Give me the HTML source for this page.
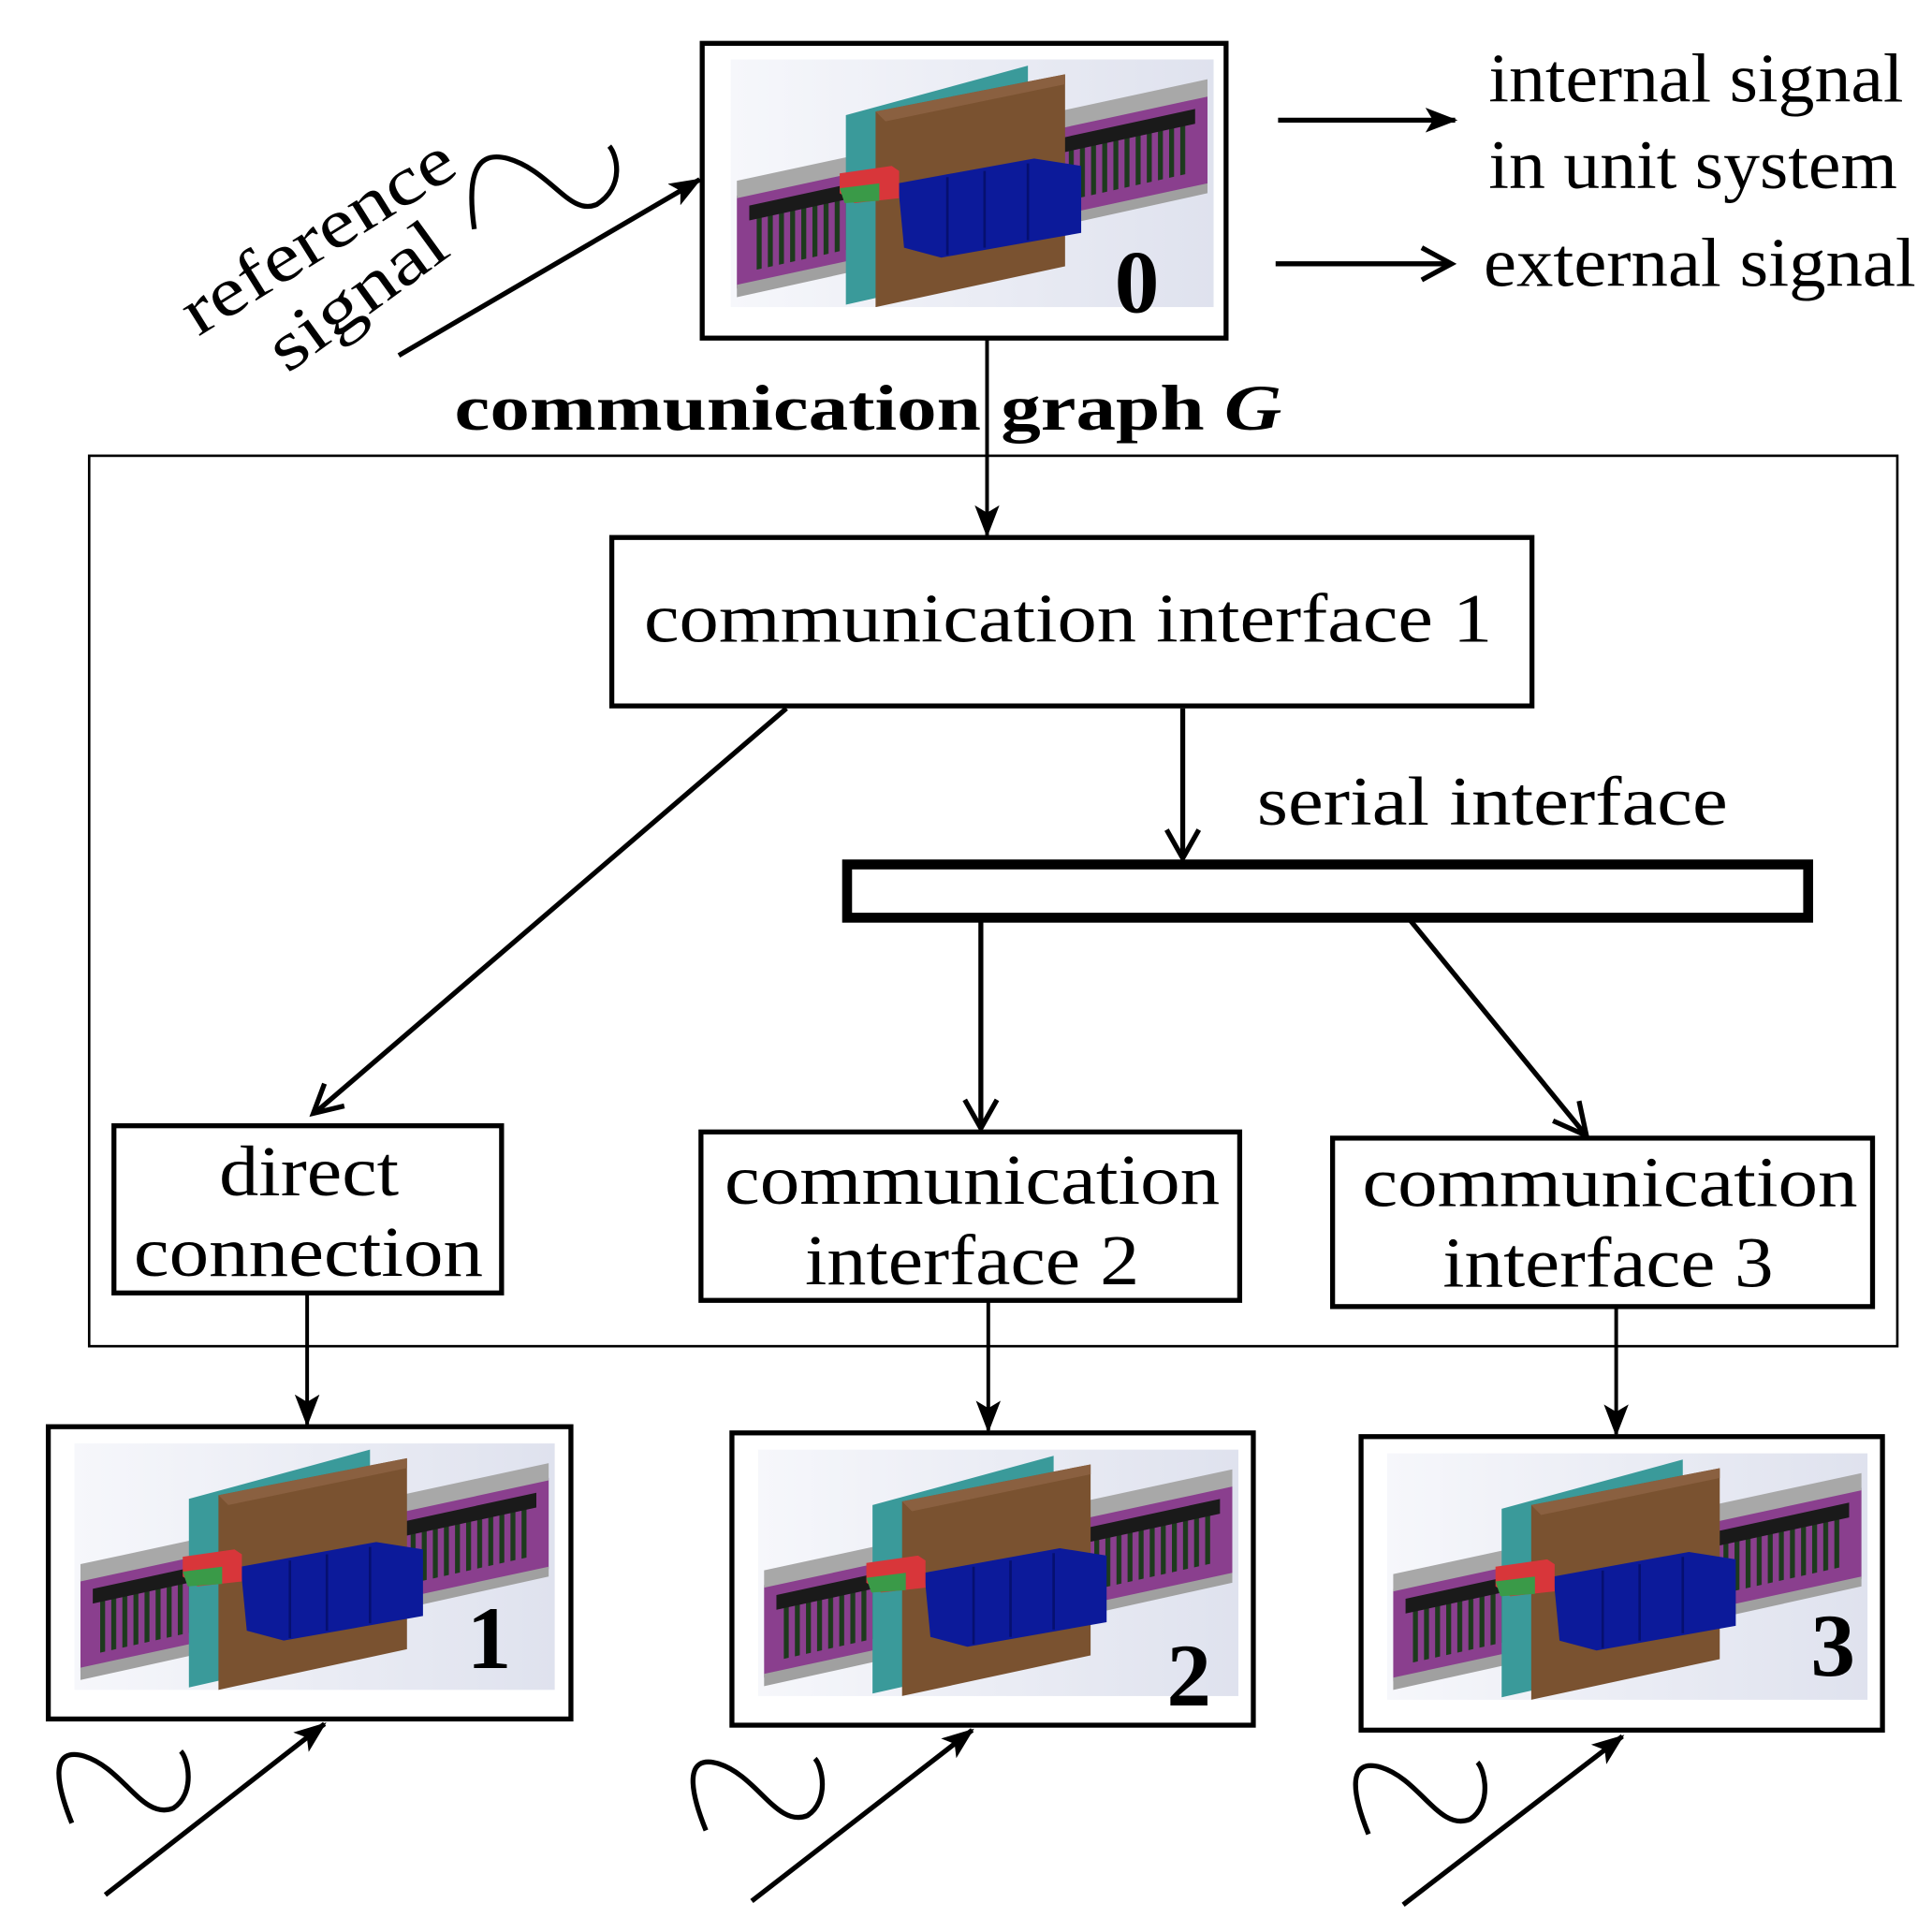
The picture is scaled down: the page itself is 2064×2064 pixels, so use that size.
<!DOCTYPE html>
<html><head><meta charset="utf-8"><style>
html,body{margin:0;padding:0;background:#fff;}
svg{display:block;}
text{font-family:"Liberation Serif",serif;fill:#000;}
</style></head><body>
<svg width="2064" height="2064" viewBox="0 0 1560 1560" xmlns="http://www.w3.org/2000/svg">
<defs>
<linearGradient id="bg" x1="0" y1="0" x2="1" y2="0"><stop offset="0" stop-color="#f6f7fb"/><stop offset="1" stop-color="#dfe2ee"/></linearGradient>
<pattern id="stripes" width="9" height="10" patternUnits="userSpaceOnUse"><rect width="9" height="10" fill="#8a3f8e"/><rect x="3" width="4" height="10" fill="#1d3a1d"/></pattern>
<marker id="fa" viewBox="0 0 26 20" refX="24" refY="10" markerWidth="26" markerHeight="20" orient="auto" markerUnits="userSpaceOnUse"><path d="M0,0 L26,10 L0,20 L6,10 z"/></marker>
<symbol id="mach" viewBox="0 0 390 200">
<rect width="390" height="200" fill="url(#bg)"/>
<polygon points="5,110 385,28 385,102 5,185" fill="#8a3f8e"/>
<polygon points="20,125 370,50 370,92 20,170" fill="url(#stripes)"/>
<polygon points="15,118 375,40 375,52 15,130" fill="#1a1a1a"/>
<polygon points="5,98 385,16 385,30 5,112" fill="#a8a8a8"/>
<polygon points="5,182 385,100 385,108 5,192" fill="#a0a0a0"/>
<polygon points="93,45 240,5 240,165 93,198" fill="#3a9a9a"/>
<polygon points="117,42 270,12 270,167 117,200" fill="#7a5230"/>
<polygon points="117,42 270,12 270,20 125,50" fill="#8a6040"/>
<polygon points="135,100 245,80 283,86 283,140 170,160 140,152" fill="#0c1a9a"/>
<line x1="175" y1="95" x2="175" y2="158" stroke="#061070" stroke-width="2"/>
<line x1="205" y1="90" x2="205" y2="152" stroke="#061070" stroke-width="2"/>
<line x1="240" y1="84" x2="240" y2="146" stroke="#061070" stroke-width="2"/>
<polygon points="88,92 130,86 136,90 136,112 100,116 88,108" fill="#d8363a"/>
<polygon points="88,104 120,100 120,114 92,116" fill="#3a9a48"/>
</symbol>
</defs>

<!-- box 0 -->
<rect x="567" y="35" width="423" height="238" fill="#fff" stroke="#000" stroke-width="4"/>
<use href="#mach" x="590" y="48" width="390" height="200"/>
<text x="918" y="252" font-size="72" font-weight="bold" text-anchor="middle">0</text>

<!-- legend -->
<line x1="1032" y1="97" x2="1175" y2="97" stroke="#000" stroke-width="4" marker-end="url(#fa)"/>
<line x1="1030" y1="213" x2="1172" y2="213" stroke="#000" stroke-width="4"/>
<polyline points="1148,200 1172,213 1148,226" fill="none" stroke="#000" stroke-width="4"/>
<text x="1202" y="82" font-size="56" textLength="335" lengthAdjust="spacingAndGlyphs">internal signal</text>
<text x="1202" y="152" font-size="56" textLength="330" lengthAdjust="spacingAndGlyphs">in unit system</text>
<text x="1198" y="231" font-size="56" textLength="349" lengthAdjust="spacingAndGlyphs">external signal</text>

<!-- reference signal -->
<text transform="translate(160,272) rotate(-32)" font-size="56" textLength="250" lengthAdjust="spacingAndGlyphs">reference</text>
<text transform="translate(232,302) rotate(-36)" font-size="56" textLength="165" lengthAdjust="spacingAndGlyphs">signal</text>
<path d="M383,185 C378,150 380,120 410,128 C445,138 460,175 482,165 C505,150 498,125 492,118" fill="none" stroke="#000" stroke-width="4"/>
<line x1="322" y1="287" x2="565" y2="145" stroke="#000" stroke-width="4" marker-end="url(#fa)"/>

<!-- communication graph -->
<text x="367" y="347" font-size="52" font-weight="bold" textLength="668" lengthAdjust="spacingAndGlyphs">communication graph <tspan font-style="italic">G</tspan></text>
<line x1="797" y1="273" x2="797" y2="432" stroke="#000" stroke-width="3" marker-end="url(#fa)"/>

<rect x="72" y="368" width="1460" height="719" fill="none" stroke="#000" stroke-width="2"/>

<rect x="494" y="434" width="743" height="136" fill="#fff" stroke="#000" stroke-width="4"/>
<text x="520" y="518" font-size="56" textLength="685" lengthAdjust="spacingAndGlyphs">communication interface 1</text>

<line x1="635" y1="572" x2="255" y2="898" stroke="#000" stroke-width="4"/>
<polyline points="262,875 253,899 278,893" fill="none" stroke="#000" stroke-width="4"/>
<line x1="955" y1="572" x2="955" y2="692" stroke="#000" stroke-width="4"/>
<polyline points="942,670 955,693 968,670" fill="none" stroke="#000" stroke-width="4"/>
<text x="1015" y="666" font-size="56" textLength="380" lengthAdjust="spacingAndGlyphs">serial interface</text>
<rect x="684" y="698" width="776" height="43" fill="#fff" stroke="#000" stroke-width="8"/>

<line x1="792" y1="741" x2="792" y2="910" stroke="#000" stroke-width="4"/>
<polyline points="779,888 792,911 805,888" fill="none" stroke="#000" stroke-width="4"/>
<line x1="1137" y1="741" x2="1280" y2="916" stroke="#000" stroke-width="4"/>
<polyline points="1254,905 1281,917 1275,889" fill="none" stroke="#000" stroke-width="4"/>

<rect x="92" y="909" width="313" height="135" fill="#fff" stroke="#000" stroke-width="4"/>
<text x="177" y="965" font-size="58" textLength="145" lengthAdjust="spacingAndGlyphs">direct</text>
<text x="108" y="1030" font-size="58" textLength="282" lengthAdjust="spacingAndGlyphs">connection</text>
<rect x="566" y="914" width="435" height="136" fill="#fff" stroke="#000" stroke-width="4"/>
<text x="585" y="972" font-size="58" textLength="400" lengthAdjust="spacingAndGlyphs">communication</text>
<text x="650" y="1037" font-size="58" textLength="270" lengthAdjust="spacingAndGlyphs">interface 2</text>
<rect x="1076" y="919" width="436" height="136" fill="#fff" stroke="#000" stroke-width="4"/>
<text x="1100" y="974" font-size="58" textLength="400" lengthAdjust="spacingAndGlyphs">communication</text>
<text x="1165" y="1039" font-size="58" textLength="267" lengthAdjust="spacingAndGlyphs">interface 3</text>

<line x1="248" y1="1044" x2="248" y2="1150" stroke="#000" stroke-width="3" marker-end="url(#fa)"/>
<line x1="798" y1="1050" x2="798" y2="1155" stroke="#000" stroke-width="3" marker-end="url(#fa)"/>
<line x1="1305" y1="1055" x2="1305" y2="1158" stroke="#000" stroke-width="3" marker-end="url(#fa)"/>

<!-- bottom boxes -->
<rect x="39" y="1152" width="422" height="236" fill="#fff" stroke="#000" stroke-width="4"/>
<use href="#mach" x="60" y="1165" width="388" height="200"/>
<text x="395" y="1347" font-size="72" font-weight="bold" text-anchor="middle">1</text>
<rect x="591" y="1157" width="421" height="236" fill="#fff" stroke="#000" stroke-width="4"/>
<use href="#mach" x="612" y="1170" width="388" height="200"/>
<text x="960" y="1377" font-size="72" font-weight="bold" text-anchor="middle">2</text>
<rect x="1099" y="1160" width="421" height="237" fill="#fff" stroke="#000" stroke-width="4"/>
<use href="#mach" x="1120" y="1173" width="388" height="200"/>
<text x="1480" y="1353" font-size="72" font-weight="bold" text-anchor="middle">3</text>

<!-- input signals -->
<g fill="none" stroke="#000" stroke-width="4">
<path d="M58,1472 C45,1440 40,1410 68,1418 C100,1428 115,1470 140,1460 C158,1448 152,1420 146,1414"/>
<path d="M570,1478 C557,1446 552,1416 580,1424 C612,1434 627,1476 652,1466 C670,1454 664,1426 658,1420"/>
<path d="M1105,1481 C1092,1449 1087,1419 1115,1427 C1147,1437 1162,1479 1187,1469 C1205,1457 1199,1429 1193,1423"/>
</g>
<line x1="85" y1="1530" x2="262" y2="1392" stroke="#000" stroke-width="4" marker-end="url(#fa)"/>
<line x1="607" y1="1535" x2="785" y2="1397" stroke="#000" stroke-width="4" marker-end="url(#fa)"/>
<line x1="1133" y1="1538" x2="1310" y2="1402" stroke="#000" stroke-width="4" marker-end="url(#fa)"/>
</svg>
</body></html>
